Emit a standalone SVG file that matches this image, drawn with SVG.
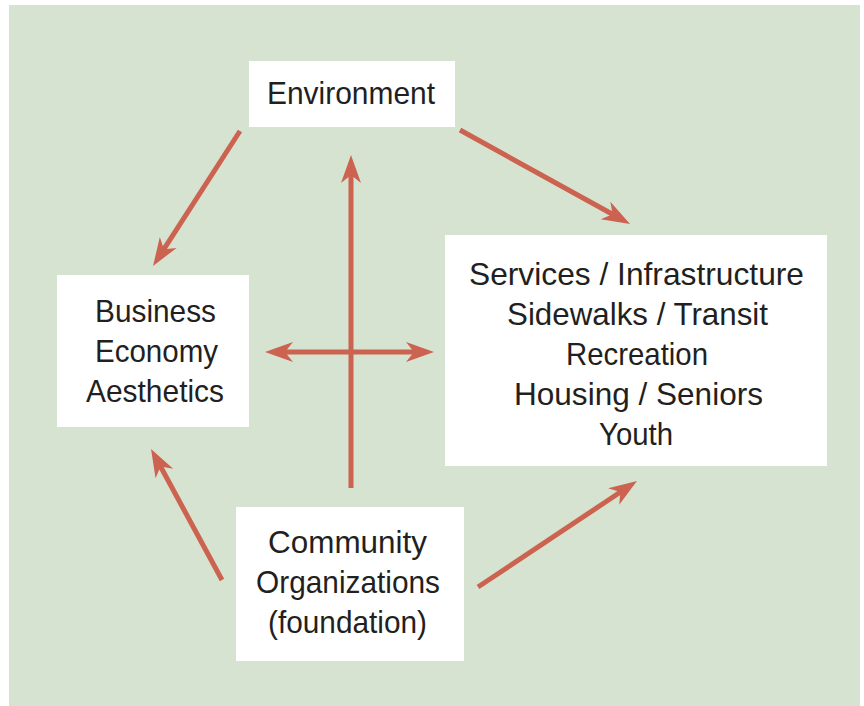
<svg xmlns="http://www.w3.org/2000/svg" width="864" height="706" viewBox="0 0 864 706">
<style>
.box{fill:#ffffff}
.t{font-family:"Liberation Sans","Arial",sans-serif;font-size:32px;fill:#231f20;text-anchor:middle}
.c{stroke:#cc6250;stroke-width:5;fill:none;stroke-linecap:butt}
</style>
<defs>
<marker id="ah" markerUnits="userSpaceOnUse" viewBox="-12 -12 32 24" markerWidth="32" markerHeight="24" refX="0" refY="0" orient="auto-start-reverse">
<path d="M18,0 L-10,-10 L-2,0 L-10,10 Z" fill="#cc6250"/>
</marker>
</defs>
<rect x="0" y="0" width="864" height="706" fill="#ffffff"/>
<rect x="9" y="5" width="851" height="701" fill="#d7e3d1"/>
<g id="connectors">
<line class="c" x1="240" y1="131" x2="162.8" y2="250.9" marker-end="url(#ah)"/>
<line class="c" x1="460" y1="130" x2="614.3" y2="215.3" marker-end="url(#ah)"/>
<line class="c" x1="351" y1="488" x2="351" y2="173" marker-end="url(#ah)"/>
<line class="c" x1="283" y1="352" x2="416" y2="352" marker-start="url(#ah)" marker-end="url(#ah)"/>
<line class="c" x1="222" y1="580" x2="159.6" y2="464.8" marker-end="url(#ah)"/>
<line class="c" x1="478" y1="587" x2="622" y2="491" marker-end="url(#ah)"/>
</g>
<g id="environment">
<rect class="box" x="249" y="61" width="206" height="66"/>
<text class="t" x="351" y="104" textLength="168" lengthAdjust="spacingAndGlyphs">Environment</text>
</g>
<g id="business">
<rect class="box" x="57" y="275" width="192" height="152"/>
<text class="t" x="155.5" y="322" textLength="121" lengthAdjust="spacingAndGlyphs">Business</text>
<text class="t" x="156.5" y="362" textLength="123" lengthAdjust="spacingAndGlyphs">Economy</text>
<text class="t" x="155" y="402" textLength="138" lengthAdjust="spacingAndGlyphs">Aesthetics</text>
</g>
<g id="services">
<rect class="box" x="445" y="235" width="382" height="231"/>
<text class="t" x="636.5" y="285" textLength="335" lengthAdjust="spacingAndGlyphs">Services / Infrastructure</text>
<text class="t" x="637.5" y="325" textLength="261" lengthAdjust="spacingAndGlyphs">Sidewalks / Transit</text>
<text class="t" x="637" y="365" textLength="142" lengthAdjust="spacingAndGlyphs">Recreation</text>
<text class="t" x="638.5" y="405" textLength="249" lengthAdjust="spacingAndGlyphs">Housing / Seniors</text>
<text class="t" x="636" y="445" textLength="74" lengthAdjust="spacingAndGlyphs">Youth</text>
</g>
<g id="community">
<rect class="box" x="236" y="507" width="228" height="154"/>
<text class="t" x="347.5" y="553" textLength="159" lengthAdjust="spacingAndGlyphs">Community</text>
<text class="t" x="348" y="593" textLength="184" lengthAdjust="spacingAndGlyphs">Organizations</text>
<text class="t" x="347.5" y="633" textLength="159" lengthAdjust="spacingAndGlyphs">(foundation)</text>
</g>
</svg>
